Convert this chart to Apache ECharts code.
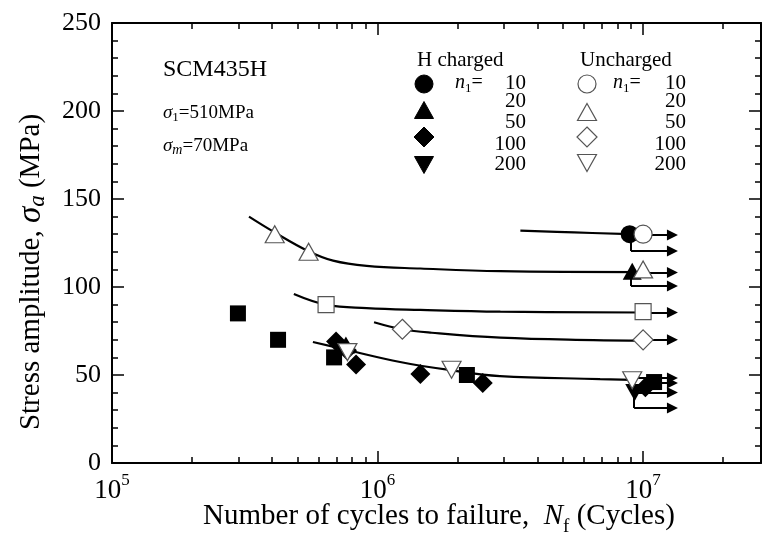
<!DOCTYPE html>
<html><head><meta charset="utf-8">
<script src="https://cdn.jsdelivr.net/npm/echarts@6/dist/echarts.min.js"></script>
<style>html,body{margin:0;padding:0;background:#fff}#c{width:762px;height:537px}</style>
</head><body><div id="c"></div>
<script>
// ---------- data (N = cycles, sigma = MPa) ----------
const xMajorTicks = [1e5, 1e6, 1e7];
const xMinorTicks = [2e5,3e5,4e5,5e5,6e5,7e5,8e5,9e5,2e6,3e6,4e6,5e6,6e6,7e6,8e6,9e6,2e7];
const yTicks = [0, 50, 100, 150, 200, 250];
const legendValues = ['10', '20', '50', '100', '200'];

// H charged (filled)
const hCircle   = [[8.9e6, 130]];
const hTriangle = [[9.1e6, 109], [7.6e5, 67]];
const hSquare   = [[2.98e5, 85], [4.22e5, 70], [6.86e5, 60], [2.17e6, 50], [1.1e7, 46]];
const hDiamond  = [[6.98e5, 69], [7.67e5, 64], [8.3e5, 56], [1.45e6, 50.5], [2.49e6, 45.5], [1.02e7, 43]];
const hInvTri   = [[9.3e6, 40]];
// Uncharged (open)
const uCircle   = [[1.0e7, 130]];
const uTriangle = [[4.1e5, 130], [5.5e5, 120], [1.0e7, 110]];
const uSquare   = [[6.4e5, 90], [1.0e7, 86]];
const uDiamond  = [[1.24e6, 76], [1.0e7, 70]];
const uInvTri   = [[7.7e5, 63], [1.9e6, 53], [9.1e6, 47]];

// fitted S-N curves
const curve10  = [[3.45e6, 132], [5.5e6, 131], [8.9e6, 130]];
const curve20  = [[3.28e5, 140], [4.07e5, 131.3], [5.47e5, 120.5], [6.8e5, 115], [9.1e5, 112], [1.45e6, 110.5], [2.9e6, 109], [9.75e6, 108.5]];
const curve50  = [[4.84e5, 96], [6.45e5, 89.8], [9.1e5, 88], [1.45e6, 87], [2.9e6, 86], [1.0e7, 85.5]];
const curve100 = [[9.7e5, 80], [1.24e6, 76], [1.6e6, 74], [2.9e6, 71.2], [6.5e6, 69.8], [1.0e7, 69.5]];
const curve200 = [[5.71e5, 68.75], [7.68e5, 64.2], [1.216e6, 57.4], [1.875e6, 52.8], [2.89e6, 49.4], [6.89e6, 47.7], [9.1e6, 47.2]];

// run-out arrows: [start N, sigma]
const runoutStart = [[9.0e6, 129.5], [9.0e6, 120.5], [9.1e6, 108.2], [9.0e6, 100.6], [1.0e7, 85.5], [1.0e7, 70], [9.1e6, 48.3], [1.1e7, 45.5], [9.3e6, 40], [9.25e6, 31.2]];
const runoutEndN = 1.29e7;
// vertical connectors: [N, sigma from, sigma to]
const runoutDrop = [[9.0e6, 130, 120.5], [9.0e6, 109, 100.6], [9.25e6, 40, 31.2]];

// ---------- chart ----------
const FONT = '"Liberation Serif","Times New Roman",serif';
const chart = echarts.init(document.getElementById('c'));

function sc(name, data, symbol, filled, size, rotate) {
  return {
    type: 'scatter', name: name, data: data, symbol: symbol, symbolSize: size,
    symbolRotate: rotate || 0, xAxisIndex: 0, yAxisIndex: 0, z: 5,
    itemStyle: filled ? {color: '#000', opacity: 1} : {color: '#fff', borderColor: '#555', borderWidth: 1.2, opacity: 1}
  };
}
function curve(data) {
  return {type: 'line', data: data, smooth: 0.4, symbol: 'none', xAxisIndex: 0, yAxisIndex: 0, z: 2,
    lineStyle: {color: '#000', width: 2.2}, silent: true};
}

const tickLine = {color: '#000', width: 1.5};
const xMin = 1e5, xMax = Math.pow(10, 7.444);

const xAxes = [
  {type: 'log', logBase: 10, min: xMin, max: xMax, position: 'bottom', gridIndex: 0,
   axisLine: {show: true, lineStyle: {color: '#000', width: 2}},
   axisTick: {show: true, inside: true, length: 12, lineStyle: tickLine, customValues: xMajorTicks},
   axisLabel: {show: true, customValues: xMajorTicks, margin: 9, color: '#000',
     formatter: function (v) { return '{b|10}{s|' + Math.round(Math.log10(v)) + '}'; },
     rich: {b: {fontFamily: FONT, fontSize: 27, color: '#000', lineHeight: 32, verticalAlign: 'bottom'},
            s: {fontFamily: FONT, fontSize: 17, color: '#000', lineHeight: 32, verticalAlign: 'top'}}},
   splitLine: {show: false}, minorTick: {show: false}},
  {type: 'log', logBase: 10, min: xMin, max: xMax, position: 'bottom', gridIndex: 0,
   axisLine: {show: false}, axisLabel: {show: false}, splitLine: {show: false},
   axisTick: {show: true, inside: true, length: 6, lineStyle: tickLine, customValues: xMinorTicks}},
  {type: 'log', logBase: 10, min: xMin, max: xMax, position: 'top', gridIndex: 0,
   axisLine: {show: true, lineStyle: {color: '#000', width: 2}}, axisLabel: {show: false}, splitLine: {show: false},
   axisTick: {show: true, inside: true, length: 12, lineStyle: tickLine, customValues: xMajorTicks}},
  {type: 'log', logBase: 10, min: xMin, max: xMax, position: 'top', gridIndex: 0,
   axisLine: {show: false}, axisLabel: {show: false}, splitLine: {show: false},
   axisTick: {show: true, inside: true, length: 6, lineStyle: tickLine, customValues: xMinorTicks}}
];

const yAxes = [
  {type: 'value', min: yTicks[0], max: yTicks[yTicks.length - 1], interval: 50, position: 'left',
   axisLine: {show: true, lineStyle: {color: '#000', width: 2}},
   axisTick: {show: true, inside: true, length: 12, lineStyle: tickLine},
   minorTick: {show: true, splitNumber: 5, length: 6, lineStyle: tickLine},
   axisLabel: {color: '#000', fontFamily: FONT, fontSize: 26, margin: 11},
   splitLine: {show: false}, minorSplitLine: {show: false}},
  {type: 'value', min: yTicks[0], max: yTicks[yTicks.length - 1], interval: 50, position: 'right',
   axisLine: {show: true, lineStyle: {color: '#000', width: 2}},
   axisTick: {show: true, inside: true, length: 12, lineStyle: tickLine},
   minorTick: {show: true, splitNumber: 5, length: 6, lineStyle: tickLine},
   axisLabel: {show: false}, splitLine: {show: false}, minorSplitLine: {show: false}}
];

const arrowData = runoutStart.map(function (r) { return {coords: [[r[0], r[1]], [runoutEndN, r[1]]]}; });
const dropData = runoutDrop.map(function (r) { return {coords: [[r[0], r[1]], [r[0], r[2]]]}; });

// ---------- legend (graphic) ----------
function txt(x, y, text, align, size) {
  return {type: 'text', x: x, y: y, z: 20, style: {text: text, fill: '#000',
    fontFamily: FONT, fontSize: size || 20, align: align || 'left', verticalAlign: 'middle'}};
}
function mkRich(sz, subSz, subItalic) {
  return {
    i: {fontFamily: FONT, fontSize: sz, fontStyle: 'italic', color: '#000', lineHeight: sz + 4, verticalAlign: 'middle'},
    sub: {fontFamily: FONT, fontSize: subSz, fontStyle: subItalic ? 'italic' : 'normal', color: '#000', lineHeight: sz + 4, verticalAlign: 'bottom'},
    r: {fontFamily: FONT, fontSize: sz, color: '#000', lineHeight: sz + 4, verticalAlign: 'middle'}
  };
}
const legendRowY = [83, 101, 122, 144, 164];
const filledStyle = {fill: '#000', stroke: '#000', lineWidth: 1};
const openStyle = {fill: '#fff', stroke: '#555', lineWidth: 1.2};
function tri(cx, cy, w, h, up, st) {
  const pts = up ? [[cx, cy - h / 2], [cx + w / 2, cy + h / 2], [cx - w / 2, cy + h / 2]]
                 : [[cx, cy + h / 2], [cx + w / 2, cy - h / 2], [cx - w / 2, cy - h / 2]];
  return {type: 'polygon', z: 20, shape: {points: pts}, style: st};
}
function dia(cx, cy, r, st) {
  return {type: 'polygon', z: 20, shape: {points: [[cx, cy - r], [cx + r, cy], [cx, cy + r], [cx - r, cy]]}, style: st};
}
const graphics = [
  txt(163, 70, 'SCM435H', 'left', 24),
  {type: 'text', x: 163, y: 113, z: 20, style: {text: '{i|σ}{sub|1}{r|=510MPa}', rich: mkRich(19, 13, false), verticalAlign: 'middle'}},
  {type: 'text', x: 163, y: 146, z: 20, style: {text: '{i|σ}{sub|m}{r|=70MPa}', rich: mkRich(19, 14, true), verticalAlign: 'middle'}},
  txt(417, 60, 'H charged', 'left', 21),
  txt(580, 60, 'Uncharged', 'left', 21),
  {type: 'text', x: 455, y: 83, z: 20, style: {text: '{i|n}{sub|1}{r|=}', rich: mkRich(20, 13, false), verticalAlign: 'middle'}},
  {type: 'text', x: 613, y: 83, z: 20, style: {text: '{i|n}{sub|1}{r|=}', rich: mkRich(20, 13, false), verticalAlign: 'middle'}},
  {type: 'circle', z: 20, shape: {cx: 424, cy: 84, r: 9}, style: filledStyle},
  tri(424, 110, 19, 17, true, filledStyle),
  dia(424, 137, 10, filledStyle),
  tri(424, 165, 19, 17, false, filledStyle),
  {type: 'circle', z: 20, shape: {cx: 587, cy: 84, r: 9}, style: openStyle},
  tri(587, 112, 19, 17, true, openStyle),
  dia(587, 137, 10, openStyle),
  tri(587, 163, 19, 17, false, openStyle),
  // axis titles
  {type: 'text', x: 31, y: 272, rotation: Math.PI / 2, z: 20, style: {
    text: '{r|Stress amplitude, }{g|σ}{a|a}{r| (MPa)}', align: 'center', verticalAlign: 'middle',
    rich: {r: {fontFamily: FONT, fontSize: 29, color: '#000', lineHeight: 36, verticalAlign: 'middle'},
           g: {fontFamily: FONT, fontSize: 33, fontStyle: 'italic', color: '#000', lineHeight: 36, verticalAlign: 'middle'},
           a: {fontFamily: FONT, fontSize: 23, fontStyle: 'italic', color: '#000', lineHeight: 36, verticalAlign: 'bottom'}}}},
  {type: 'text', x: 439, y: 516, z: 20, style: {
    text: '{r|Number of cycles to failure,  }{i|N}{f|f}{r| (Cycles)}', align: 'center', verticalAlign: 'middle',
    rich: {r: {fontFamily: FONT, fontSize: 29, color: '#000', lineHeight: 34, verticalAlign: 'middle'},
           i: {fontFamily: FONT, fontSize: 29, fontStyle: 'italic', color: '#000', lineHeight: 34, verticalAlign: 'middle'},
           f: {fontFamily: FONT, fontSize: 19, color: '#000', lineHeight: 42, verticalAlign: 'bottom'}}}}
];
legendValues.forEach(function (v, i) {
  graphics.push(txt(526, legendRowY[i], v, 'right', 21));
  graphics.push(txt(686, legendRowY[i], v, 'right', 21));
});

chart.setOption({
  animation: false,
  backgroundColor: '#fff',
  grid: {left: 112, right: 1, top: 23, bottom: 74, containLabel: false},
  xAxis: xAxes,
  yAxis: yAxes,
  graphic: graphics,
  series: [
    curve(curve10), curve(curve20), curve(curve50), curve(curve100), curve(curve200),
    {type: 'lines', coordinateSystem: 'cartesian2d', xAxisIndex: 0, yAxisIndex: 0, z: 3, silent: true,
     symbol: ['none', 'triangle'], symbolSize: [0, 11],
     lineStyle: {color: '#000', width: 2, opacity: 1, curveness: 0}, data: arrowData},
    {type: 'lines', coordinateSystem: 'cartesian2d', xAxisIndex: 0, yAxisIndex: 0, z: 3, silent: true,
     symbol: ['none', 'none'],
     lineStyle: {color: '#000', width: 2, opacity: 1, curveness: 0}, data: dropData},
    sc('H n1=10', hCircle, 'circle', true, 18),
    sc('H n1=20', hTriangle, 'triangle', true, [19, 17]),
    sc('H n1=50', hSquare, 'rect', true, 16),
    sc('H n1=100', hDiamond, 'diamond', true, 20),
    sc('H n1=200', hInvTri, 'triangle', true, [19, 17], 180),
    sc('U n1=10', uCircle, 'circle', false, 18),
    sc('U n1=20', uTriangle, 'triangle', false, [19, 17]),
    sc('U n1=50', uSquare, 'rect', false, 16),
    sc('U n1=100', uDiamond, 'diamond', false, 20),
    sc('U n1=200', uInvTri, 'triangle', false, [19, 17], 180)
  ]
});
</script></body></html>
